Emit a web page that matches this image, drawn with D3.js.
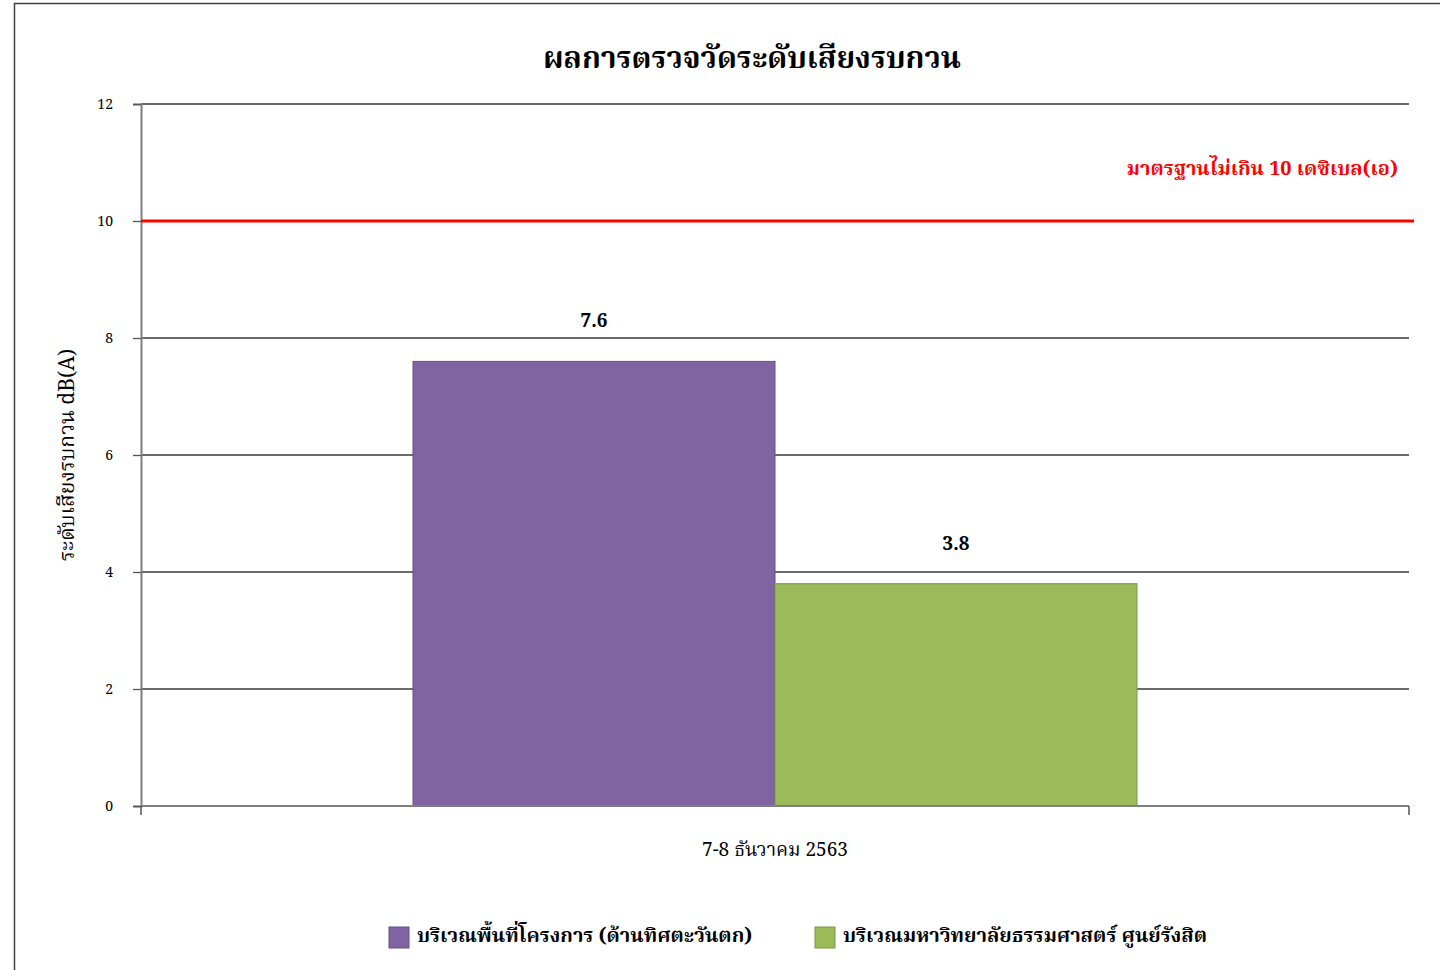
<!DOCTYPE html>
<html><head><meta charset="utf-8">
<script src="https://cdn.jsdelivr.net/npm/d3@7"></script>
<style>
body{margin:0;background:#fff;}
svg{display:block;}
text{font-family:"Noto Serif Thai","Noto Sans Thai","Noto Sans","DejaVu Serif",serif;}
</style></head>
<body>
<svg id="c" width="1440" height="970"></svg>
<script>
const title = "ผลการตรวจวัดระดับเสียงรบกวน";
const yLabel = "ระดับเสียงรบกวน dB(A)";
const categories = ["7-8 ธันวาคม 2563"];
const seriesNames = ["บริเวณพื้นที่โครงการ (ด้านทิศตะวันตก)", "บริเวณมหาวิทยาลัยธรรมศาสตร์ ศูนย์รังสิต"];
const seriesValues = [[7.6], [3.8]];
const seriesColors = ["#8064A2", "#9BBB59"];
const yTicks = [0, 2, 4, 6, 8, 10, 12];
const standardValue = 10;
const standardLabel = "มาตรฐานไม่เกิน 10 เดซิเบล(เอ)";

const svg = d3.select("#c");
// outer frame
svg.append("rect").attr("x",14.5).attr("y",3.5).attr("width",1440).attr("height",980)
  .attr("fill","#fff").attr("stroke","#404040").attr("stroke-width",1.5);

const L=141, R=1409, T=104, B=806;
const y = d3.scaleLinear().domain([0,12]).range([B,T]);
const x0 = d3.scaleBand().domain(categories).range([L,R]).paddingInner(0).paddingOuter(0.3757);
const x1 = d3.scaleBand().domain(d3.range(seriesNames.length)).range([0,x0.bandwidth()]);

// gridlines
svg.append("g").selectAll("line").data(yTicks.filter(d=>d>0)).join("line")
  .attr("x1",L).attr("x2",R).attr("y1",d=>y(d)).attr("y2",d=>y(d))
  .attr("stroke","#3a3a3a").attr("stroke-width",1.3);

// y axis
const ya = svg.append("g").attr("transform",`translate(${L},0)`)
  .call(d3.axisLeft(y).tickValues(yTicks).tickSize(8).tickPadding(20));
ya.select(".domain").attr("stroke","#7f7f7f").attr("stroke-width",2);
ya.selectAll(".tick line").attr("stroke","#555").attr("stroke-width",1.3);
ya.selectAll(".tick text").attr("font-size",14).attr("fill","#000")
  .attr("font-family","DejaVu Sans, sans-serif");

// bars
categories.forEach((c,ci)=>{
  seriesValues.forEach((vals,si)=>{
    const v = vals[ci];
    const bx = x0(c)+x1(si);
    svg.append("rect").attr("x",bx).attr("y",y(v)).attr("width",x1.bandwidth()).attr("height",y(0)-y(v))
      .attr("fill",seriesColors[si]).attr("stroke",d3.color(seriesColors[si]).darker(0.6)).attr("stroke-width",1);
    svg.append("text").attr("x",bx+x1.bandwidth()/2).attr("y",y(v)-39)
      .attr("text-anchor","middle").attr("dominant-baseline","central")
      .attr("font-size",19).attr("font-weight","bold").attr("fill","#000").text(v.toFixed(1));
  });
});

// x axis
svg.append("line").attr("x1",L).attr("x2",R).attr("y1",B).attr("y2",B)
  .attr("stroke","#7f7f7f").attr("stroke-width",2);
[L,R].forEach(px=>svg.append("line").attr("x1",px).attr("x2",px).attr("y1",B).attr("y2",B+9)
  .attr("stroke","#555").attr("stroke-width",1.5));
categories.forEach(c=>{
  svg.append("text").attr("x",x0(c)+x0.bandwidth()/2).attr("y",851)
    .attr("text-anchor","middle").attr("dominant-baseline","central")
    .attr("font-size",19).attr("fill","#000").text(c);
});

// standard line
svg.append("line").attr("x1",L).attr("x2",1414).attr("y1",y(standardValue)).attr("y2",y(standardValue))
  .attr("stroke","#ff0000").attr("stroke-width",3);
svg.append("text").attr("x",1398).attr("y",170).attr("text-anchor","end").attr("dominant-baseline","central")
  .attr("font-size",20).attr("font-weight","bold").attr("fill","#ff0000").text(standardLabel);

// title
svg.append("text").attr("x",752).attr("y",60).attr("text-anchor","middle").attr("dominant-baseline","central")
  .attr("font-size",30).attr("font-weight","bold").attr("fill","#000").text(title);

// y label
svg.append("text").attr("transform","translate(68,455) rotate(-90)").attr("text-anchor","middle")
  .attr("dominant-baseline","central").attr("font-size",21).attr("fill","#000").text(yLabel);

// legend
const legX = [389, 815];
seriesNames.forEach((n,i)=>{
  svg.append("rect").attr("x",legX[i]).attr("y",927).attr("width",20).attr("height",21)
    .attr("fill",seriesColors[i]).attr("stroke",d3.color(seriesColors[i]).darker(0.6));
  svg.append("text").attr("x",legX[i]+28).attr("y",937).attr("dominant-baseline","central")
    .attr("font-size",20).attr("font-weight","bold").attr("fill","#000").text(n);
});
</script>
</body></html>
